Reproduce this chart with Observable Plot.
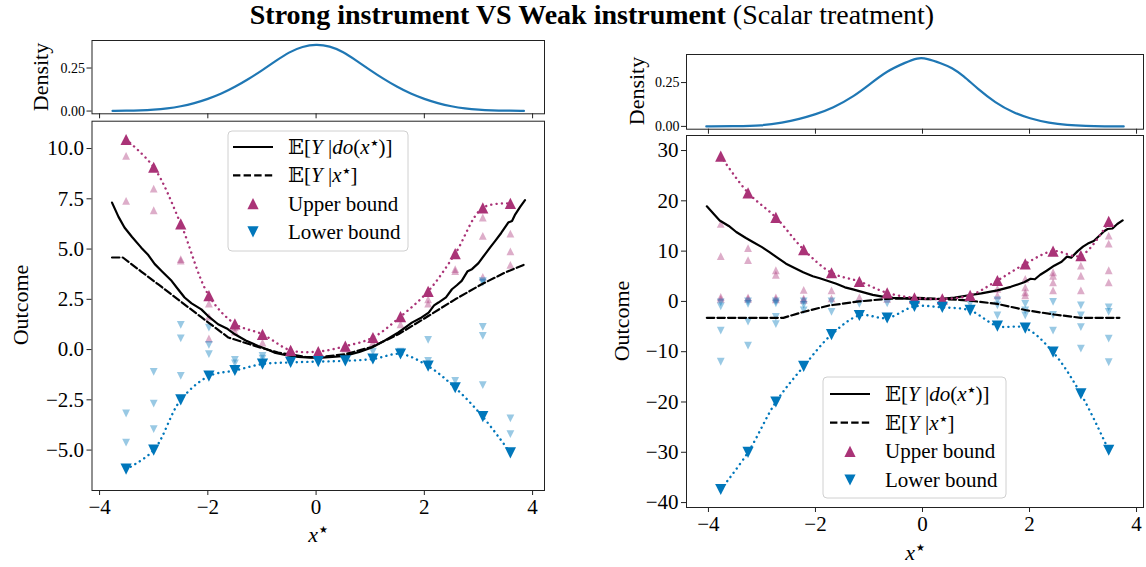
<!DOCTYPE html>
<html>
<head>
<meta charset="utf-8">
<script src="https://cdn.jsdelivr.net/npm/d3@7"></script>
<script src="https://cdn.jsdelivr.net/npm/@observablehq/plot@0.6"></script>
<style>
  body { margin: 0; background: #fff; }
  #fig { position: relative; width: 1146px; height: 567px; overflow: hidden; background: #fff; }
  #fig svg { position: absolute; }
</style>
</head>
<body>
<div id="fig"></div>
<script>
// ---------- Strong instrument (left panel) ----------
const xLeft = [-3.51, -3.0, -2.5, -1.98, -1.5, -0.99, -0.47, 0.04, 0.54, 1.05, 1.56, 2.07, 2.57, 3.08, 3.59];
const upperLeft = [10.45, 9.07, 6.25, 2.68, 1.28, 0.76, -0.04, -0.1, 0.17, 0.6, 1.64, 2.9, 4.77, 7.05, 7.27];
const lowerLeft = [-5.95, -5.0, -2.5, -1.32, -1.04, -0.72, -0.64, -0.6, -0.56, -0.47, -0.22, -0.82, -1.9, -3.34, -5.14];

const faintUpperLeft = [
  [-3.51, 9.64], [-3.51, 7.4], [-3.0, 8.01], [-3.0, 6.93], [-2.5, 4.5], [-2.5, 4.42],
  [-1.98, 2.29], [-1.98, 1.64], [-1.98, 0.55], [-1.5, 1.1], [-1.5, 0.9], [-0.99, 0.35],
  [-0.47, 0.02], [0.54, 0.05], [1.05, 0.35], [1.56, 1.26], [2.07, 2.5], [2.07, 2.29],
  [2.57, 4.0], [2.57, 3.9], [3.08, 6.57], [3.08, 5.66], [3.08, 3.62],
  [3.59, 5.77], [3.59, 4.88], [3.59, 4.21]
];
const faintLowerLeft = [
  [-3.51, -3.18], [-3.51, -4.63], [-3.0, -1.11], [-3.0, -2.69], [-3.0, -3.96],
  [-2.5, 1.23], [-2.5, 0.56], [-2.5, -1.31], [-1.98, 1.09], [-1.98, 0.23], [-1.98, -0.23],
  [-1.5, -0.51], [-1.5, -0.69], [-0.99, -0.31], [-0.99, -0.45], [-0.47, -0.5], [0.04, -0.45],
  [1.05, -0.1], [1.56, -0.1], [2.07, 0.48], [2.07, -0.56], [2.57, -1.56],
  [3.08, 3.4], [3.08, 3.33], [3.08, 1.13], [3.08, 0.68], [3.08, -1.77],
  [3.59, -3.42], [3.59, -4.21]
];

// E[Y | do(x*)] and E[Y | x*]
const doLeft = [
  [-3.77, 7.31], [-3.65, 6.6], [-3.54, 6.07], [-3.4, 5.6], [-3.23, 5.07], [-3.1, 4.7], [-2.98, 4.25],
  [-2.85, 3.9], [-2.67, 3.42], [-2.55, 3.0], [-2.43, 2.59], [-2.3, 2.3], [-2.12, 2.0], [-2.0, 1.68],
  [-1.81, 1.26], [-1.65, 1.05], [-1.5, 0.76], [-1.3, 0.45], [-1.07, 0.18], [-0.9, 0.0], [-0.77, -0.15],
  [-0.55, -0.28], [-0.33, -0.36], [-0.1, -0.4], [0.1, -0.4], [0.3, -0.37], [0.54, -0.31], [0.8, -0.12],
  [1.03, 0.1], [1.25, 0.42], [1.52, 0.85], [1.65, 1.1], [1.77, 1.34], [1.95, 1.6], [2.08, 1.84],
  [2.18, 2.2], [2.26, 2.34], [2.4, 2.6], [2.51, 3.0], [2.6, 3.2], [2.69, 3.42], [2.8, 3.9], [2.88, 4.0],
  [3.0, 4.3], [3.12, 4.74], [3.22, 5.1], [3.31, 5.41], [3.42, 5.8], [3.55, 6.32], [3.62, 6.4],
  [3.68, 6.73], [3.77, 7.1], [3.86, 7.43]
];
const condLeft = [
  [-3.77, 4.58], [-3.57, 4.58], [-3.23, 3.88], [-2.92, 3.25], [-2.49, 2.37], [-2.12, 1.61],
  [-1.62, 0.6], [-1.13, 0.18], [-0.7, -0.15], [-0.2, -0.36], [0.04, -0.39], [0.54, -0.23],
  [1.03, 0.13], [1.52, 0.76], [2.08, 1.68], [2.57, 2.5], [3.06, 3.25], [3.49, 3.83], [3.86, 4.24]
];

const densLeftX = [-3.76, -3.5, -3.25, -3.0, -2.75, -2.5, -2.25, -2.0, -1.75, -1.5, -1.25, -1.0, -0.75, -0.5, -0.25, 0,
  0.25, 0.5, 0.75, 1.0, 1.25, 1.5, 1.75, 2.0, 2.25, 2.5, 2.75, 3.0, 3.25, 3.5, 3.84];
const densLeftY = [0.001, 0.002, 0.004, 0.008, 0.015, 0.027, 0.045, 0.07, 0.1, 0.14, 0.185, 0.236, 0.29, 0.343, 0.375, 0.388,
  0.378, 0.345, 0.292, 0.238, 0.186, 0.14, 0.1, 0.07, 0.045, 0.027, 0.015, 0.008, 0.004, 0.002, 0.001];

// ---------- Weak instrument (right panel) ----------
const xRight = [-3.77, -3.26, -2.74, -2.22, -1.70, -1.18, -0.66, -0.15, 0.37, 0.89, 1.40, 1.92, 2.44, 2.96, 3.48];
const upperRight = [28.9, 21.6, 16.7, 10.3, 5.7, 3.96, 1.7, 0.7, 0.5, 1.2, 4.16, 7.47, 10.0, 9.1, 15.9];
const lowerRight = [-37.4, -30.0, -20.0, -12.9, -6.6, -2.8, -3.3, -1.0, -1.2, -1.8, -4.9, -5.3, -10.1, -18.4, -29.6];

const faintUpperRight = [
  [-3.77, 15.4], [-3.77, 9.0], [-3.77, 0.9], [-3.77, 0.5], [-3.26, 10.6], [-3.26, 8.2], [-3.26, 0.8], [-3.26, 0.5],
  [-2.74, 6.2], [-2.74, 5.3], [-2.74, 0.8], [-2.74, 0.4], [-2.22, 2.3], [-2.22, 0.6], [-2.22, 0.3],
  [-1.70, 2.2], [-1.70, 0.6], [-1.18, 0.8], [-0.66, 0.5], [0.89, 1.0], [1.40, 2.5], [1.40, 1.2],
  [1.92, 4.5], [1.92, 2.8], [1.92, 1.8], [1.92, 1.2], [2.44, 5.8], [2.44, 5.1], [2.44, 3.8], [2.44, 2.2],
  [2.96, 7.1], [2.96, 5.1], [2.96, 2.2], [3.48, 13.1], [3.48, 11.5], [3.48, 6.2], [3.48, 3.8]
];
const faintLowerRight = [
  [-3.77, -0.2], [-3.77, -1.0], [-3.77, -5.8], [-3.77, -12.0], [-3.26, 0.0], [-3.26, -0.5], [-3.26, -4.0], [-3.26, -8.8],
  [-2.74, 0.0], [-2.74, -0.4], [-2.74, -3.1], [-2.74, -4.5], [-2.22, 0.0], [-2.22, -0.7], [-2.22, -1.8],
  [-1.70, 0.0], [-1.70, -2.1], [-1.18, -0.5], [-0.66, -0.4], [0.89, -0.5], [1.40, 0.2], [1.40, -0.8], [1.40, -2.8],
  [1.92, -0.5], [1.92, -1.8], [1.92, -2.8], [2.44, -0.1], [2.44, -2.7], [2.44, -5.8],
  [2.96, -0.8], [2.96, -2.8], [2.96, -5.1], [2.96, -9.4], [3.48, -1.2], [3.48, -2.1], [3.48, -7.4], [3.48, -12.1]
];

const doRight = [
  [-4.03, 18.9], [-3.9, 17.4], [-3.79, 16.1], [-3.62, 15.0], [-3.48, 13.8], [-3.3, 12.6], [-3.17, 11.8],
  [-3.0, 10.8], [-2.86, 9.8], [-2.7, 8.6], [-2.55, 7.5], [-2.4, 6.7], [-2.23, 5.8], [-2.05, 5.0],
  [-1.92, 4.6], [-1.75, 4.0], [-1.61, 3.5], [-1.45, 2.8], [-1.3, 2.4], [-1.1, 1.8], [-0.93, 1.3],
  [-0.72, 0.9], [-0.55, 0.7], [-0.3, 0.55], [-0.12, 0.5], [0.1, 0.45], [0.35, 0.5], [0.6, 0.75],
  [0.84, 1.17], [1.1, 1.6], [1.40, 2.2], [1.65, 2.9], [1.90, 3.8], [2.02, 4.5], [2.1, 4.4], [2.2, 5.3],
  [2.32, 6.1], [2.46, 7.1], [2.6, 7.9], [2.7, 8.9], [2.78, 8.7], [2.9, 10.0], [3.0, 10.9], [3.09, 11.5],
  [3.2, 12.0], [3.3, 13.0], [3.4, 14.0], [3.46, 14.4], [3.55, 14.5], [3.64, 15.4], [3.74, 16.1]
];
const condRight = [
  [-4.03, -3.27], [-2.6, -3.27], [-2.23, -2.1], [-1.74, -0.8], [-1.18, 0.0], [-0.68, 0.5], [-0.12, 0.7],
  [0.35, 0.5], [0.84, 0.2], [1.40, -0.5], [1.96, -1.8], [2.46, -2.6], [2.96, -3.27], [3.68, -3.27]
];

const densRightX = [-4.04, -3.5, -3.0, -2.62, -2.3, -2.0, -1.68, -1.27, -1.0, -0.66, -0.32, -0.09, 0.08, 0.35, 0.55,
  0.76, 1.03, 1.36, 1.70, 2.0, 2.37, 2.7, 3.05, 3.4, 3.76];
const densRightY = [0.0, 0.001, 0.004, 0.021, 0.042, 0.069, 0.103, 0.174, 0.237, 0.317, 0.364, 0.392, 0.388, 0.36, 0.335,
  0.29, 0.215, 0.135, 0.078, 0.046, 0.019, 0.007, 0.002, 0.0005, 0.0];

const xTicks = [-4, -2, 0, 2, 4];
const yTicksLeft = [-5, -2.5, 0, 2.5, 5, 7.5, 10];
const yTicksRight = [-40, -30, -20, -10, 0, 10, 20, 30];
const densTicks = [0, 0.25];

// ---------- styling ----------
const PURPLE = "#AA3377", BLUE = "#0077BB", KDE = "#1f77b4", INK = "#222";
const FONT = "'Liberation Serif', 'DejaVu Serif', serif";
const BIG = 5.6, SMALL = 3.9;

// matplotlib-like '^' and 'v' markers
const triUp = {draw(ctx, size) { const r = Math.sqrt(size / Math.PI); ctx.moveTo(0, -r); ctx.lineTo(r, r); ctx.lineTo(-r, r); ctx.closePath(); }};
const triDown = {draw(ctx, size) { const r = Math.sqrt(size / Math.PI); ctx.moveTo(0, r); ctx.lineTo(r, -r); ctx.lineTo(-r, -r); ctx.closePath(); }};

const fig = document.getElementById("fig");

function place(svg, left, top) {
  svg.style.left = left + "px";
  svg.style.top = top + "px";
  fig.appendChild(svg);
}

// box: svg position/size; frame: plot area in page pixels
function densityPanel(box, frame, xDomain, xs, ys) {
  const data = xs.map((x, i) => ({x, y: ys[i]}));
  const svg = Plot.plot({
    width: box.w, height: box.h,
    marginLeft: frame.x0 - box.left, marginRight: box.left + box.w - frame.x1,
    marginTop: frame.y0 - box.top, marginBottom: box.top + box.h - frame.y1,
    x: {domain: xDomain},
    y: {domain: [-0.016, 0.41]},
    style: {fontFamily: FONT, color: "#000", background: "transparent", overflow: "visible"},
    marks: [
      Plot.line(data, {x: "x", y: "y", stroke: KDE, strokeWidth: 2.2, curve: "basis"}),
      Plot.axisY({ticks: densTicks, tickFormat: d3.format(".2f"), tickSize: 5, tickPadding: 2, fontSize: 14, label: null, stroke: INK}),
      Plot.axisX({ticks: xTicks, tickFormat: () => "", tickSize: 5, label: null, stroke: INK}),
      Plot.frame({stroke: INK, strokeWidth: 1})
    ]
  });
  place(svg, box.left, box.top);
}

function mainPanel(box, frame, xDomain, yDomain, yTicks, yFormat, d) {
  const up = d.xs.map((x, i) => ({x, y: d.upper[i]}));
  const lo = d.xs.map((x, i) => ({x, y: d.lower[i]}));
  const dotted = {strokeWidth: 2.4, strokeDasharray: "0.1,5.2", strokeLinecap: "round", curve: "catmull-rom"};
  const svg = Plot.plot({
    width: box.w, height: box.h,
    marginLeft: frame.x0 - box.left, marginRight: box.left + box.w - frame.x1,
    marginTop: frame.y0 - box.top, marginBottom: box.top + box.h - frame.y1,
    x: {domain: xDomain},
    y: {domain: yDomain},
    style: {fontFamily: FONT, color: "#000", background: "transparent", overflow: "visible"},
    marks: [
      Plot.dot(d.faintUpper, {x: "0", y: "1", symbol: triUp, r: SMALL, fill: PURPLE, fillOpacity: 0.4, stroke: "none"}),
      Plot.dot(d.faintLower, {x: "0", y: "1", symbol: triDown, r: SMALL, fill: BLUE, fillOpacity: 0.4, stroke: "none"}),
      Plot.line(d.cond, {x: "0", y: "1", stroke: "#000", strokeWidth: 2.2, strokeDasharray: "7.4,3.2"}),
      Plot.line(d.doLine, {x: "0", y: "1", stroke: "#000", strokeWidth: 2.2}),
      Plot.line(up, {x: "x", y: "y", stroke: PURPLE, ...dotted}),
      Plot.line(lo, {x: "x", y: "y", stroke: BLUE, ...dotted}),
      Plot.dot(up, {x: "x", y: "y", symbol: triUp, r: BIG, fill: PURPLE, stroke: "none"}),
      Plot.dot(lo, {x: "x", y: "y", symbol: triDown, r: BIG, fill: BLUE, stroke: "none"}),
      Plot.axisX({ticks: xTicks, tickFormat: d3.format("d"), tickSize: 5, tickPadding: 4, fontSize: 21, label: null, stroke: INK}),
      Plot.axisY({ticks: yTicks, tickFormat: yFormat, tickSize: 5, tickPadding: 3, fontSize: 21, label: null, stroke: INK}),
      Plot.frame({stroke: INK, strokeWidth: 1})
    ]
  });
  place(svg, box.left, box.top);
}

// left column
densityPanel({left: 0, top: 30, w: 575, h: 100}, {x0: 91.5, x1: 544, y0: 40, y1: 113.3}, [-4.14, 4.22], densLeftX, densLeftY);
mainPanel({left: 0, top: 110, w: 575, h: 420}, {x0: 91.5, x1: 544, y0: 120.7, y1: 490}, [-4.14, 4.22], [-7.01, 11.36],
  yTicksLeft, d3.format(".1f"),
  {xs: xLeft, upper: upperLeft, lower: lowerLeft, faintUpper: faintUpperLeft, faintLower: faintLowerLeft, doLine: doLeft, cond: condLeft});

// right column
densityPanel({left: 580, top: 44, w: 566, h: 100}, {x0: 686, x1: 1143, y0: 54, y1: 128.7}, [-4.41, 4.13], densRightX, densRightY);
mainPanel({left: 580, top: 125, w: 566, h: 420}, {x0: 686, x1: 1143, y0: 135, y1: 507}, [-4.41, 4.13], [-40.98, 32.99],
  yTicksRight, d3.format("d"),
  {xs: xRight, upper: upperRight, lower: lowerRight, faintUpper: faintUpperRight, faintLower: faintLowerRight, doLine: doRight, cond: condRight});

// ---------- titles, axis labels and legends ----------
const over = d3.select(fig).append("svg")
  .attr("width", 1146).attr("height", 567)
  .style("left", "0px").style("top", "0px")
  .style("font-family", FONT);

const title = over.append("text").attr("x", 592).attr("y", 24).attr("text-anchor", "middle").attr("font-size", 28);
title.append("tspan").attr("font-weight", "bold").text("Strong instrument VS Weak instrument");
title.append("tspan").text(" (Scalar treatment)");

function vLabel(x, y, text, size) {
  over.append("text").attr("transform", `translate(${x},${y}) rotate(-90)`)
    .attr("text-anchor", "middle").attr("dominant-baseline", "central")
    .attr("font-size", size).text(text);
}
vLabel(20, 305, "Outcome", 22);
vLabel(621, 321, "Outcome", 22);
vLabel(40, 77, "Density", 22);
vLabel(636, 91, "Density", 22);

// italic x with a raised star
function xStar(g, x, y, size) {
  const t = g.append("text").attr("x", x).attr("y", y).attr("text-anchor", "middle").attr("font-size", size);
  t.append("tspan").attr("font-style", "italic").text("x");
  t.append("tspan").attr("font-family", "'DejaVu Sans', sans-serif").attr("font-size", size * 0.45).attr("dx", 1).attr("dy", -size * 0.4).text("★");
  return t;
}
xStar(over, 318, 542, 22);
xStar(over, 915, 560, 22);

function legend(x0, y0, w, h, rowY, lineX0) {
  const g = over.append("g");
  g.append("rect").attr("x", x0).attr("y", y0).attr("width", w).attr("height", h).attr("rx", 4)
    .attr("fill", "#fff").attr("fill-opacity", 0.8).attr("stroke", "#d0d0d0").attr("stroke-width", 1);
  const lx1 = lineX0 + 40, tx = lineX0 + 55, mx = lineX0 + 20;
  g.append("line").attr("x1", lineX0).attr("x2", lx1).attr("y1", rowY[0]).attr("y2", rowY[0]).attr("stroke", "#000").attr("stroke-width", 2.2);
  g.append("line").attr("x1", lineX0).attr("x2", lx1).attr("y1", rowY[1]).attr("y2", rowY[1]).attr("stroke", "#000").attr("stroke-width", 2.2).attr("stroke-dasharray", "7.4,3.2");
  g.append("path").attr("d", d3.symbol(triUp, Math.PI * BIG * BIG)()).attr("transform", `translate(${mx},${rowY[2]})`).attr("fill", PURPLE);
  g.append("path").attr("d", d3.symbol(triDown, Math.PI * BIG * BIG)()).attr("transform", `translate(${mx},${rowY[3]})`).attr("fill", BLUE);
  const fs = 21;
  const mk = (y) => g.append("text").attr("x", tx).attr("y", y + 7).attr("font-size", fs);
  const star = (t) => t.append("tspan").attr("font-family", "'DejaVu Sans', sans-serif").attr("font-size", fs * 0.42).attr("dx", 1).attr("dy", -8).text("★");
  const t1 = mk(rowY[0]);
  t1.append("tspan").attr("font-family", "'DejaVu Serif', serif").text("𝔼");
  t1.append("tspan").text("[");
  t1.append("tspan").attr("font-style", "italic").text("Y");
  t1.append("tspan").text(" |");
  t1.append("tspan").attr("font-style", "italic").text("do");
  t1.append("tspan").text("(");
  t1.append("tspan").attr("font-style", "italic").text("x");
  star(t1);
  t1.append("tspan").attr("dy", 8).text(")]");
  const t2 = mk(rowY[1]);
  t2.append("tspan").attr("font-family", "'DejaVu Serif', serif").text("𝔼");
  t2.append("tspan").text("[");
  t2.append("tspan").attr("font-style", "italic").text("Y");
  t2.append("tspan").text(" |");
  t2.append("tspan").attr("font-style", "italic").text("x");
  star(t2);
  t2.append("tspan").attr("dy", 8).text("]");
  mk(rowY[2]).text("Upper bound");
  mk(rowY[3]).text("Lower bound");
}
legend(228, 131, 180, 120, [147, 175.3, 203.6, 231.9], 233);
legend(823, 377, 183, 121, [394, 422.7, 451.3, 480], 830);
</script>
</body>
</html>
